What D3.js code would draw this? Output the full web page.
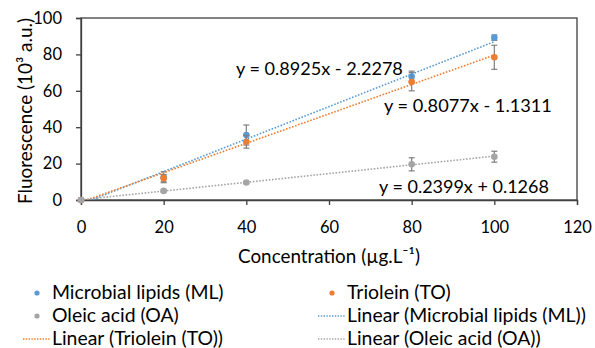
<!DOCTYPE html>
<html><head><meta charset="utf-8">
<script src="https://cdn.jsdelivr.net/npm/d3@7"></script>
<style>body{margin:0;background:#fff}svg{display:block}text{font-family:Lato,"Open Sans",sans-serif;fill:#000}</style>
</head><body>
<svg id="c" width="595" height="348"></svg>
<script>
const concentrations=[0,20,40,80,100];
const mlValues=[0,12.5,35.7,67.8,89.2];
const mlErrors=[0,3,5.5,3,1.5];
const toValues=[0,12,32,65,78.4];
const toErrors=[0,2,3.5,5,6.6];
const oaValues=[0,5,9.6,19.6,23.8];
const oaErrors=[0,0.6,0.6,3.6,3];
const slopes=[0.8925,0.8077,0.2399];
const intercepts=[-2.2278,-1.1311,0.1268];
const seriesNames=["Microbial lipids (ML)","Triolein (TO)","Oleic acid (OA)"];
const equationLabels=["y = 0.8925x - 2.2278","y = 0.8077x - 1.1311","y = 0.2399x + 0.1268"];
const xTicks=[0,20,40,60,80,100,120];
const yTicks=[0,20,40,60,80,100];
const colors=["#5B9BD5","#ED7D31","#A5A5A5"];

const svg=d3.select("#c");
const L=81,R=577,T=18,B=200;
const x=d3.scaleLinear().domain([0,120]).range([L,R]);
const y=d3.scaleLinear().domain([0,100]).range([B,T]);

function fit(sel,target){const w=sel.node().getComputedTextLength();const fs=parseFloat(sel.attr("font-size"));sel.attr("font-size",fs*target/w);}

// plot border
svg.append("rect").attr("x",L).attr("y",T).attr("width",R-L).attr("height",B-T).attr("fill","none").attr("stroke","#404040").attr("stroke-width",1.3);

const xAxis=svg.append("g").attr("transform",`translate(0,${B})`).call(d3.axisBottom(x).tickValues(xTicks).tickSize(5).tickPadding(16).tickFormat(d3.format("d")));
const yAxis=svg.append("g").attr("transform",`translate(${L},0)`).call(d3.axisLeft(y).tickValues(yTicks).tickSize(5).tickPadding(14).tickFormat(d3.format("d")));
[xAxis,yAxis].forEach(a=>{a.select(".domain").attr("stroke","#404040").attr("stroke-width",1.3);a.selectAll(".tick line").attr("stroke","#404040").attr("stroke-width",1.3);a.selectAll("text").attr("font-size",16.5).attr("font-family","Lato").attr("fill","#000");});

// axis titles
const xt=svg.append("text").attr("x",(L+R)/2).attr("y",263).attr("text-anchor","middle").attr("font-size",16).text("Concentration (µg.L⁻¹)");
fit(xt,182);
const yt=svg.append("text").attr("transform",`translate(32,${(T+B)/2+2}) rotate(-90)`).attr("text-anchor","middle").attr("font-size",16).text("Fluorescence (10³ a.u.)");
fit(yt,186);

svg.append("clipPath").attr("id","clip").append("rect").attr("x",L).attr("y",T).attr("width",R-L).attr("height",B-T);

const allValues=[mlValues,toValues,oaValues];
const allErrors=[mlErrors,toErrors,oaErrors];

// error bars and markers
allValues.forEach((vals,s)=>{
  const g=svg.append("g");
  concentrations.forEach((c,i)=>{
    const e=allErrors[s][i];
    if(e>0){
      g.append("line").attr("x1",x(c)).attr("x2",x(c)).attr("y1",y(vals[i]-e)).attr("y2",y(vals[i]+e)).attr("stroke","#7f7f7f").attr("stroke-width",1.2);
      [vals[i]-e,vals[i]+e].forEach(v=>g.append("line").attr("x1",x(c)-3).attr("x2",x(c)+3).attr("y1",y(v)).attr("y2",y(v)).attr("stroke","#7f7f7f").attr("stroke-width",1.2));
    }
  });
  g.selectAll("circle").data(vals).join("circle").attr("cx",(d,i)=>x(concentrations[i])).attr("cy",d=>y(d)).attr("r",3.3).attr("fill",colors[s]);
});

// trendlines
slopes.forEach((m,s)=>{
  svg.append("line").attr("clip-path","url(#clip)")
    .attr("x1",x(0)).attr("y1",y(intercepts[s])).attr("x2",x(100)).attr("y2",y(m*100+intercepts[s]))
    .attr("stroke",colors[s]).attr("stroke-width",1.6).attr("stroke-dasharray","1.6,1.6");
});

// equation labels
const eqPos=[[236,75,167],[384,112,168],[379,193,170]];
equationLabels.forEach((t,i)=>{
  const e=svg.append("text").attr("x",eqPos[i][0]).attr("y",eqPos[i][1]).attr("font-size",16).text(t);
  fit(e,eqPos[i][2]);
});

// legend
const legendItems=[
  {label:seriesNames[0],type:"dot",c:0,x:23,y:293},
  {label:seriesNames[1],type:"dot",c:1,x:318,y:293},
  {label:seriesNames[2],type:"dot",c:2,x:23,y:316},
  {label:"Linear ("+seriesNames[0]+")",type:"line",c:0,x:318,y:316},
  {label:"Linear ("+seriesNames[1]+")",type:"line",c:1,x:23,y:339},
  {label:"Linear ("+seriesNames[2]+")",type:"line",c:2,x:318,y:339}
];
let legendFs=16;
const probe=svg.append("text").attr("font-size",16).text("Linear (Microbial lipids (ML))");
legendFs=16*239/probe.node().getComputedTextLength();probe.remove();
legendItems.forEach(it=>{
  if(it.type==="dot") svg.append("circle").attr("cx",it.x+14).attr("cy",it.y).attr("r",2.6).attr("fill",colors[it.c]);
  else svg.append("line").attr("x1",it.x).attr("x2",it.x+27).attr("y1",it.y).attr("y2",it.y).attr("stroke",colors[it.c]).attr("stroke-width",1.4).attr("stroke-dasharray","1.4,1.4");
  svg.append("text").attr("x",it.x+29).attr("y",it.y+6).attr("font-size",legendFs).text(it.label);
});
</script>
</body></html>
